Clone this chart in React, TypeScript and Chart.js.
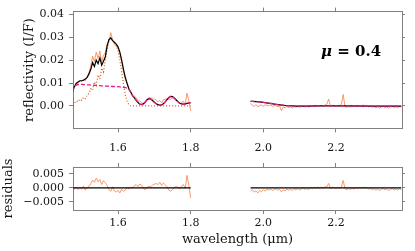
import React, { useEffect, useRef } from "react";
import { Chart, registerables } from "chart.js";

Chart.register(...registerables);

// ---------- data ----------
const waveSeg1 = [
  1.475, 1.48, 1.485, 1.49, 1.495, 1.5, 1.505, 1.51, 1.515, 1.52,
  1.525, 1.53, 1.535, 1.54, 1.545, 1.55, 1.555, 1.56, 1.565, 1.57,
  1.575, 1.58, 1.585, 1.59, 1.595, 1.6, 1.605, 1.61, 1.615, 1.62,
  1.625, 1.63, 1.635, 1.64, 1.645, 1.65, 1.655, 1.66, 1.665, 1.67,
  1.675, 1.68, 1.685, 1.69, 1.695, 1.7, 1.705, 1.71, 1.715, 1.72,
  1.725, 1.73, 1.735, 1.74, 1.745, 1.75, 1.755, 1.76, 1.765, 1.77,
  1.775, 1.78, 1.785, 1.79, 1.795, 1.8,
];

const modelSeg1 = [
  0.0065, 0.0085, 0.0098, 0.0105, 0.011, 0.011, 0.0112, 0.0118, 0.0125, 0.014,
  0.016, 0.019, 0.0172, 0.02, 0.0185, 0.021, 0.0178, 0.0195, 0.0215, 0.0262,
  0.029, 0.0297, 0.0285, 0.0278, 0.027, 0.0258, 0.0235, 0.02, 0.016, 0.0125,
  0.0098, 0.0075, 0.006, 0.0045, 0.0035, 0.0024, 0.0015, 0.0008, 0.0006, 0.001,
  0.0018, 0.0027, 0.0032, 0.003, 0.0024, 0.0016, 0.001, 0.0006, 0.0004, 0.0005,
  0.001, 0.0018, 0.0028, 0.0037, 0.0042, 0.0041, 0.0034, 0.0026, 0.0018, 0.0012,
  0.0009, 0.0008, 0.0009, 0.0011, 0.0013, 0.0014,
];

const continuumSeg1 = [
  0.0065, 0.0085, 0.0091, 0.0093, 0.0094, 0.0094, 0.0093, 0.0093, 0.0092, 0.0092,
  0.0091, 0.0091, 0.009, 0.009, 0.0089, 0.0089, 0.0088, 0.0088, 0.0087, 0.0087,
  0.0086, 0.0086, 0.0085, 0.0085, 0.0084, 0.0084, 0.0083, 0.0082, 0.0081, 0.008,
  0.0078, 0.0072, 0.006, 0.0045, 0.0035, 0.0024, 0.0015, 0.0008, 0.0006, 0.001,
  0.0018, 0.0027, 0.0032, 0.003, 0.0024, 0.0016, 0.001, 0.0006, 0.0004, 0.0005,
  0.001, 0.0018, 0.0028, 0.0037, 0.0042, 0.0041, 0.0034, 0.0026, 0.0018, 0.0012,
  0.0009, 0.0008, 0.0009, 0.0011, 0.0013, 0.0014,
];

const bandSeg1 = [
  0.0004, 0.0012, 0.0022, 0.0018, 0.003, 0.0025, 0.0038, 0.0032, 0.0048, 0.0055,
  0.0075, 0.0068, 0.0105, 0.009, 0.0135, 0.0118, 0.0165, 0.0148, 0.02, 0.0245,
  0.0282, 0.03, 0.0285, 0.0275, 0.0265, 0.024, 0.02, 0.015, 0.0095, 0.005,
  0.002, 0.0006, 0.0001, 0, 0, 0, 0, 0, 0, 0,
  0, 0, 0, 0, 0, 0, 0, 0, 0, 0,
  0, 0, 0, 0, 0, 0, 0, 0, 0, 0,
  0, 0, 0, 0, 0, 0,
];

const obsSeg1 = [
  0.0073, 0.008, 0.0101, 0.0099, 0.0112, 0.0106, 0.0118, 0.011, 0.0126, 0.0145,
  0.0175, 0.0218, 0.0192, 0.0235, 0.0207, 0.024, 0.019, 0.0221, 0.0233, 0.027,
  0.0284, 0.032, 0.029, 0.027, 0.0262, 0.0252, 0.0228, 0.0195, 0.015, 0.0117,
  0.01, 0.0071, 0.0063, 0.0045, 0.0043, 0.0036, 0.002, 0.0022, 0.0015, 0.0008,
  0.0012, 0.0029, 0.0038, 0.0034, 0.0034, 0.0029, 0.0026, 0.0018, 0.0024, 0.0014,
  0.0028, 0.0029, 0.0032, 0.0029, 0.003, 0.0035, 0.0036, 0.0031, 0.0021, 0.0008,
  0.0016, 0.002, 0.0007, 0.0056, 0.0023, -0.0021,
];

const residSeg1 = [
  0.0008, -0.0005, 0.0003, -0.0006, 0.0002, -0.0004, 0.0006, -0.0008, 0.0001, 0.0005,
  0.0015, 0.0028, 0.002, 0.0035, 0.0022, 0.003, 0.0012, 0.0026, 0.0018, 0.0008,
  -0.0006, -0.0012, 0.0004, -0.001, -0.0015, -0.0008, -0.0018, -0.0005, -0.0012, -0.0008,
  0.0002, -0.0004, 0.0003, 0.0, 0.0008, 0.0012, 0.0005, 0.0014, 0.0009, -0.0002,
  -0.0006, 0.0002, 0.0006, 0.0004, 0.001, 0.0013, 0.0016, 0.0012, 0.002, 0.0009,
  0.0018, 0.0011, 0.0004, -0.0008, -0.0012, -0.0006, 0.0002, 0.0005, 0.0003, -0.0004,
  0.0007, 0.0012, -0.0002, 0.0045, 0.001, -0.0035,
];

const waveSeg2 = [
  1.965, 1.97, 1.975, 1.98, 1.985, 1.99, 1.995, 2.0, 2.005, 2.01,
  2.015, 2.02, 2.025, 2.03, 2.035, 2.04, 2.045, 2.05, 2.055, 2.06,
  2.065, 2.07, 2.075, 2.08, 2.085, 2.09, 2.095, 2.1, 2.105, 2.11,
  2.115, 2.12, 2.125, 2.13, 2.135, 2.14, 2.145, 2.15, 2.155, 2.16,
  2.165, 2.17, 2.175, 2.18, 2.185, 2.19, 2.195, 2.2, 2.205, 2.21,
  2.215, 2.22, 2.225, 2.23, 2.235, 2.24, 2.245, 2.25, 2.255, 2.26,
  2.265, 2.27, 2.275, 2.28, 2.285, 2.29, 2.295, 2.3, 2.305, 2.31,
  2.315, 2.32, 2.325, 2.33, 2.335, 2.34, 2.345, 2.35, 2.355, 2.36,
  2.365, 2.37, 2.375, 2.38,
];

const obsSeg2 = [
  0.0012, 0.0003, -0.0002, 0.0006, -0.0004, 0.0002, 0.0004, -0.0001, 0.0005, 0.0003,
  0.0001, 0.0005, -0.0002, 0.0002, 0.0001, -0.0003, 0.0, -0.002, -0.0004, -0.0008,
  -0.0002, -0.0007, -0.0004, -0.0009, -0.0003, -0.0006, -0.0001, -0.0006, -0.0003, 0.0,
  -0.0005, -0.0002, -0.0005, 0.0002, -0.0003, 0.0002, -0.0002, 0.0003, -0.0001, 0.0002,
  0.0, 0.0004, 0.0008, 0.003, -0.0001, 0.0003, 0.0001, -0.0002, 0.0002, 0.0,
  0.0006, 0.005, -0.0003, -0.0006, -0.0002, -0.0005, -0.0001, -0.0004, 0.0001, -0.0003,
  0.0002, -0.0002, 0.0005, -0.0001, 0.0003, -0.0004, -0.0001, -0.0006, -0.0003, -0.0008,
  -0.0004, -0.001, -0.0005, -0.0002, -0.0008, -0.0004, -0.001, -0.0005, -0.0002, -0.0007,
  -0.0004, -0.0009, -0.0003, -0.0006,
];

const residSeg2 = [
  -0.0012, -0.0006, -0.0015, -0.001, -0.0018, -0.0009, -0.0013, -0.0007, -0.0011, -0.0005,
  -0.0008, -0.0004, -0.0009, -0.0006, -0.0003, -0.0008, -0.0005, -0.0014, -0.0007, -0.001,
  -0.0004, -0.0008, -0.0005, -0.0009, -0.0003, -0.0006, -0.0002, -0.0007, -0.0004, -0.0001,
  -0.0005, -0.0002, -0.0006, 0.0001, -0.0003, 0.0002, -0.0002, 0.0003, -0.0001, 0.0002,
  0.0, 0.0004, 0.0004, 0.0016, -0.0002, 0.0003, 0.0001, -0.0002, 0.0002, -0.0001,
  0.0002, 0.0027, -0.0003, -0.0006, -0.0002, -0.0005, -0.0001, -0.0004, 0.0001, -0.0003,
  0.0002, -0.0002, 0.0003, -0.0001, 0.0002, -0.0004, -0.0001, -0.0006, -0.0003, -0.0008,
  -0.0004, -0.0009, -0.0005, -0.0002, -0.0007, -0.0004, -0.0009, -0.0005, -0.0002, -0.0007,
  -0.0004, -0.0008, -0.0003, -0.0006,
];

const modelWaveSeg2 = [1.965, 1.98, 2.0, 2.02, 2.04, 2.06, 2.08, 2.1, 2.15, 2.2, 2.25, 2.3, 2.38];
const modelSeg2 = [0.002, 0.0019, 0.0016, 0.0011, 0.0006, 0.0002, 0.0, -0.0001, 0.0, 0.0, 0.0, -0.0001, -0.0001];
const continuumSeg2 = [0.002, 0.0019, 0.0016, 0.0011, 0.0006, 0.0002, 0.0, -0.0001, 0.0, 0.0, 0.0, -0.0001, -0.0001];

const zeroWave1 = [1.475, 1.8];
const zeroWave2 = [1.965, 2.38];
const zeroValues = [0, 0];

const xTicks = [1.6, 1.8, 2.0, 2.2];
const xTickLabels = ["1.6", "1.8", "2.0", "2.2"];
const yTicksTop = [0, 0.01, 0.02, 0.03, 0.04];
const yTickLabelsTop = ["0.00", "0.01", "0.02", "0.03", "0.04"];
const yTicksRes = [-0.005, 0, 0.005];
const yTickLabelsRes = ["\u22120.005", "0.000", "0.005"];

const annotationText = "\u03bc = 0.4";

// ---------- styling ----------
const X_MIN = 1.476;
const X_MAX = 2.382;
const TOP_Y_MIN = -0.0098;
const TOP_Y_MAX = 0.0412;
const RES_Y_MIN = -0.0079;
const RES_Y_MAX = 0.0075;
const FONT_FAMILY = "'DejaVu Serif', serif";
const AXIS_GRAY = "#808080";
const TEXT_COLOR = "#151515";
const OBS_COLOR = "rgba(248,135,80,0.85)";
const BAND_COLOR = "rgb(212,92,20)";
const CONT_COLOR = "rgb(236,24,140)";

const pts = (xs: number[], ys: number[]) => xs.map((x, i) => ({ x, y: ys[i] }));

function axisCommon(tickLength: number) {
  return {
    grid: {
      display: true,
      drawOnChartArea: false,
      drawTicks: true,
      tickLength,
      color: AXIS_GRAY,
      tickColor: AXIS_GRAY,
      lineWidth: 1,
    },
    border: { display: true, color: AXIS_GRAY, width: 1 },
  };
}

function xAxis(position: string, size: number, showLabels: boolean, padding: number, title?: any) {
  return {
    type: "linear",
    position,
    min: X_MIN,
    max: X_MAX,
    afterBuildTicks: (a: any) => {
      a.ticks = xTicks.map((v) => ({ value: v }));
    },
    afterFit: (a: any) => {
      a.height = size;
    },
    ...axisCommon(4),
    ticks: {
      display: showLabels,
      autoSkip: false,
      maxRotation: 0,
      padding,
      color: TEXT_COLOR,
      font: { family: FONT_FAMILY, size: 11 },
      callback: (_v: any, i: number) => xTickLabels[i],
    },
    title: title || { display: false },
  };
}

function yAxis(
  position: string,
  size: number,
  min: number,
  max: number,
  ticks: number[],
  labels: string[] | null,
  tickLength: number,
  title?: any
) {
  return {
    type: "linear",
    position,
    min,
    max,
    afterBuildTicks: (a: any) => {
      a.ticks = ticks.map((v) => ({ value: v }));
    },
    afterFit: (a: any) => {
      a.width = size;
    },
    ...axisCommon(tickLength),
    ticks: {
      display: !!labels,
      autoSkip: false,
      padding: 5,
      color: TEXT_COLOR,
      font: { family: FONT_FAMILY, size: 11 },
      callback: (_v: any, i: number) => (labels ? labels[i] : ""),
    },
    title: title || { display: false },
  };
}

const annotationPlugin = {
  id: "muLabel",
  afterDraw(chart: any) {
    const { ctx, scales } = chart;
    const cx = scales.x.getPixelForValue(2.242);
    const cy = scales.y.getPixelForValue(0.0236);
    ctx.save();
    ctx.fillStyle = "#000";
    ctx.textBaseline = "middle";
    ctx.textAlign = "left";
    const muFont = `italic bold 15px ${FONT_FAMILY}`;
    const restFont = `bold 15px ${FONT_FAMILY}`;
    const mu = annotationText.slice(0, 1);
    const rest = annotationText.slice(1);
    ctx.font = muFont;
    const w1 = ctx.measureText(mu).width;
    ctx.font = restFont;
    const w2 = ctx.measureText(rest).width;
    const start = cx - (w1 + w2) / 2;
    ctx.font = muFont;
    ctx.fillText(mu, start, cy);
    ctx.font = restFont;
    ctx.fillText(rest, start + w1, cy);
    ctx.restore();
  },
};

const lineBase = { pointRadius: 0, fill: false, tension: 0 };

function topConfig(): any {
  return {
    type: "line",
    data: {
      datasets: [
        { ...lineBase, data: pts(waveSeg1, continuumSeg1), borderColor: CONT_COLOR, borderWidth: 1.3, borderDash: [4, 2] },
        { ...lineBase, data: pts(modelWaveSeg2, continuumSeg2), borderColor: CONT_COLOR, borderWidth: 1.3, borderDash: [4, 2], cubicInterpolationMode: "monotone" },
        { ...lineBase, data: pts(waveSeg1, modelSeg1), borderColor: "#000", borderWidth: 1.2 },
        { ...lineBase, data: pts(modelWaveSeg2, modelSeg2), borderColor: "#000", borderWidth: 1.2, cubicInterpolationMode: "monotone" },
        { ...lineBase, data: pts(waveSeg1, bandSeg1), borderColor: BAND_COLOR, borderWidth: 1.2, borderDash: [1, 2] },
        { ...lineBase, data: pts(waveSeg1, obsSeg1), borderColor: OBS_COLOR, borderWidth: 1 },
        { ...lineBase, data: pts(waveSeg2, obsSeg2), borderColor: OBS_COLOR, borderWidth: 1 },
      ],
    },
    options: {
      animation: false,
      responsive: false,
      events: [],
      layout: { padding: 0 },
      plugins: { legend: { display: false }, tooltip: { enabled: false } },
      scales: {
        x: xAxis("bottom", 7, false, 0),
        xT: xAxis("top", 5, false, 0),
        y: yAxis("left", 73, TOP_Y_MIN, TOP_Y_MAX, yTicksTop, yTickLabelsTop, 4, {
          display: true,
          text: "reflectivity (I/F)",
          color: TEXT_COLOR,
          font: { family: FONT_FAMILY, size: 13 },
          padding: { top: 22, bottom: 0 },
        }),
        yR: yAxis("right", 13, TOP_Y_MIN, TOP_Y_MAX, yTicksTop, null, 3),
      },
    },
    plugins: [annotationPlugin],
  };
}

function resConfig(): any {
  return {
    type: "line",
    data: {
      datasets: [
        { ...lineBase, data: pts(zeroWave1, zeroValues), borderColor: "#000", borderWidth: 1.3 },
        { ...lineBase, data: pts(zeroWave2, zeroValues), borderColor: "#000", borderWidth: 1.3 },
        { ...lineBase, data: pts(waveSeg1, residSeg1), borderColor: OBS_COLOR, borderWidth: 1 },
        { ...lineBase, data: pts(waveSeg2, residSeg2), borderColor: OBS_COLOR, borderWidth: 1 },
      ],
    },
    options: {
      animation: false,
      responsive: false,
      events: [],
      layout: { padding: 0 },
      plugins: { legend: { display: false }, tooltip: { enabled: false } },
      scales: {
        x: xAxis("bottom", 41, true, 3, {
          display: true,
          text: "wavelength (\u03bcm)",
          color: TEXT_COLOR,
          font: { family: FONT_FAMILY, size: 13 },
          padding: { top: 0, bottom: 4 },
        }),
        xT: xAxis("top", 27, true, 8),
        y: yAxis("left", 73, RES_Y_MIN, RES_Y_MAX, yTicksRes, yTickLabelsRes, 4, {
          display: true,
          text: "residuals",
          color: TEXT_COLOR,
          font: { family: FONT_FAMILY, size: 13 },
          padding: { top: 1, bottom: 0 },
        }),
        yR: yAxis("right", 13, RES_Y_MIN, RES_Y_MAX, yTicksRes, null, 3),
      },
    },
  };
}

export default function App() {
  const topRef = useRef<HTMLCanvasElement | null>(null);
  const resRef = useRef<HTMLCanvasElement | null>(null);

  useEffect(() => {
    const charts: Chart[] = [];
    if (topRef.current) charts.push(new Chart(topRef.current, topConfig()));
    if (resRef.current) charts.push(new Chart(resRef.current, resConfig()));
    return () => charts.forEach((c) => c.destroy());
  }, []);

  return (
    <div style={{ position: "absolute", left: 0, top: 0, width: 415, height: 251, background: "#fff" }}>
      <canvas ref={topRef} width={415} height={140} style={{ display: "block", width: 415, height: 140 }} />
      <canvas ref={resRef} width={415} height={111} style={{ display: "block", width: 415, height: 111 }} />
    </div>
  );
}
